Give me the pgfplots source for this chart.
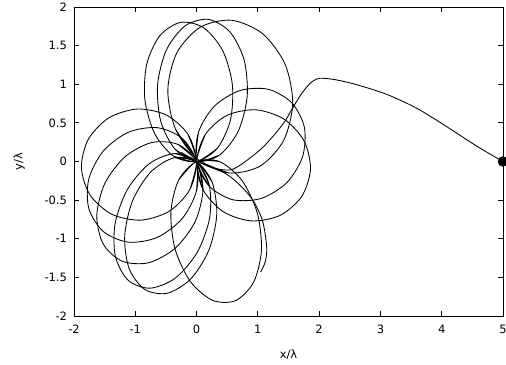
\documentclass[border=0pt]{standalone}
\usepackage{fontspec}
\setmainfont{DejaVu Sans}
\usepackage{pgfplots}
\pgfplotsset{compat=1.18}
\begin{document}
\fontsize{11.5bp}{13bp}\selectfont
\begin{tikzpicture}
\begin{axis}[
  scale only axis, width=429bp, height=309bp,
  xmin=-2, xmax=5, ymin=-2, ymax=2,
  xtick={-2,-1,0,1,2,3,4,5},
  ytick={-2,-1.5,-1,-0.5,0,0.5,1,1.5,2},
  yticklabels={-2,-1.5,-1,-0.5,0,0.5,1,1.5,2},
  xticklabels={-2,-1,0,1,2,3,4,5},
  tick align=inside, major tick length=5bp,
  axis line style={line width=0.8bp},
  every tick/.style={black, line width=0.8bp},
  tick label style={font=\fontsize{11.5bp}{13bp}\selectfont},
  xticklabel style={yshift=-5bp},
  yticklabel style={xshift=-3bp},
  xlabel={x/λ}, ylabel={y/λ},
  every axis x label/.style={at={(axis description cs:0.5,-0.126)}, anchor=center},
  every axis y label/.style={at={(axis description cs:-0.128,0.5)}, rotate=90, anchor=center},
  label style={font=\fontsize{11.5bp}{13bp}\selectfont},
  clip=false,
  traj/.style={black, line width=0.85bp, smooth, no marks},
]
% approach from the starting point
\addplot[traj] coordinates {(5,0) (4.57,0.20) (4.025,0.48) (3.59,0.69) (3.10,0.87) (2.61,0.995) (2.29,1.055) (2.07,1.077) (1.96,1.068) (1.85,1.01) (1.715,0.88) (1.58,0.71) (1.415,0.49) (1.09,0.19) (0.76,-0.02) (0.545,-0.11) (0.25,-0.08) (0.05,-0.01)};
% upper loops
\addplot[traj] coordinates {(-0.374,0.069) (0,0) (0.339,0.172) (0.553,0.539) (0.583,1.003) (0.423,1.440) (0.114,1.732) (-0.260,1.801) (-0.599,1.629) (-0.813,1.261) (-0.843,0.797) (-0.683,0.360) (-0.374,0.069) (0,0) (0.339,0.172)};
\addplot[traj] coordinates {(-0.353,0.161) (0,0) (0.378,0.085) (0.681,0.394) (0.826,0.844) (0.776,1.315) (0.543,1.679) (0.190,1.840) (-0.188,1.755) (-0.491,1.446) (-0.636,0.996) (-0.586,0.525) (-0.353,0.161) (0,0) (0.378,0.085)};
\addplot[traj] coordinates {(-0.345,0.422) (0.019,0.028) (0.525,-0.148) (1.038,-0.059) (1.420,0.271) (1.569,0.753) (1.445,1.258) (1.081,1.652) (0.575,1.828) (0.062,1.739) (-0.320,1.410) (-0.469,0.927) (-0.345,0.422) (0.019,0.028) (0.525,-0.148)};
% right loops
\addplot[traj] coordinates {(0.031,0.379) (0,0) (0.205,-0.319) (0.591,-0.495) (1.054,-0.478) (1.471,-0.275) (1.729,0.061) (1.760,0.439) (1.555,0.759) (1.169,0.935) (0.706,0.918) (0.289,0.715) (0.031,0.379) (0,0) (0.205,-0.319)};
\addplot[traj] coordinates {(0.145,0.353) (0,0) (0.106,-0.366) (0.432,-0.648) (0.891,-0.769) (1.361,-0.698) (1.715,-0.453) (1.859,-0.100) (1.754,0.266) (1.428,0.548) (0.969,0.669) (0.499,0.598) (0.145,0.353) (0,0) (0.106,-0.366)};
% lower loop
\addplot[traj] coordinates {(0.377,-0.002) (0,0) (-0.292,-0.240) (-0.419,-0.657) (-0.349,-1.138) (-0.099,-1.556) (0.263,-1.798) (0.640,-1.800) (0.932,-1.560) (1.059,-1.144) (0.989,-0.662) (0.739,-0.244) (0.377,-0.002) (0,0) (-0.292,-0.240)};
% last, unfinished loop
\addplot[traj] coordinates {(-0.25,0.12) (0,0) (0.25,-0.07) (0.556,-0.20) (0.883,-0.46) (1.073,-0.76) (1.144,-1.11) (1.12,-1.30) (1.046,-1.43)};
% left loops
\addplot[traj] coordinates {(-0.112,-0.366) (0,0) (-0.142,0.354) (-0.497,0.603) (-0.970,0.679) (-1.436,0.563) (-1.768,0.286) (-1.879,-0.079) (-1.738,-0.434) (-1.383,-0.683) (-0.910,-0.759) (-0.444,-0.643) (-0.112,-0.366) (0,0) (-0.142,0.354)};
\addplot[traj] coordinates {(-0.001,-0.381) (0,0) (-0.235,0.300) (-0.643,0.438) (-1.114,0.378) (-1.522,0.135) (-1.758,-0.225) (-1.759,-0.606) (-1.524,-0.905) (-1.116,-1.044) (-0.645,-0.984) (-0.237,-0.741) (-0.001,-0.381) (0,0) (-0.235,0.300)};
\addplot[traj] coordinates {(0.104,-0.366) (0,0) (-0.309,0.223) (-0.739,0.244) (-1.175,0.056) (-1.500,-0.289) (-1.628,-0.700) (-1.524,-1.067) (-1.215,-1.290) (-0.785,-1.311) (-0.349,-1.123) (-0.023,-0.778) (0.104,-0.366) (0,0) (-0.309,0.223)};
% lower-left loops
\addplot[traj] coordinates {(0.255,-0.270) (0,0) (-0.369,0.048) (-0.751,-0.139) (-1.046,-0.511) (-1.173,-0.968) (-1.100,-1.387) (-0.844,-1.657) (-0.476,-1.705) (-0.093,-1.518) (0.202,-1.146) (0.329,-0.690) (0.255,-0.270) (0,0) (-0.369,0.048)};
\addplot[traj] coordinates {(0.208,-0.309) (0,0) (-0.358,0.103) (-0.770,-0.028) (-1.125,-0.357) (-1.328,-0.797) (-1.325,-1.228) (-1.117,-1.537) (-0.759,-1.640) (-0.347,-1.509) (0.008,-1.180) (0.211,-0.741) (0.208,-0.309) (0,0) (-0.358,0.103)};
% starting position
\addplot[only marks, mark=*, mark size=5bp, black] coordinates {(5,0)};
\end{axis}
\pgfresetboundingbox
\path[use as bounding box] (-74bp,-49bp) rectangle (432bp,316bp);
\end{tikzpicture}
\end{document}
